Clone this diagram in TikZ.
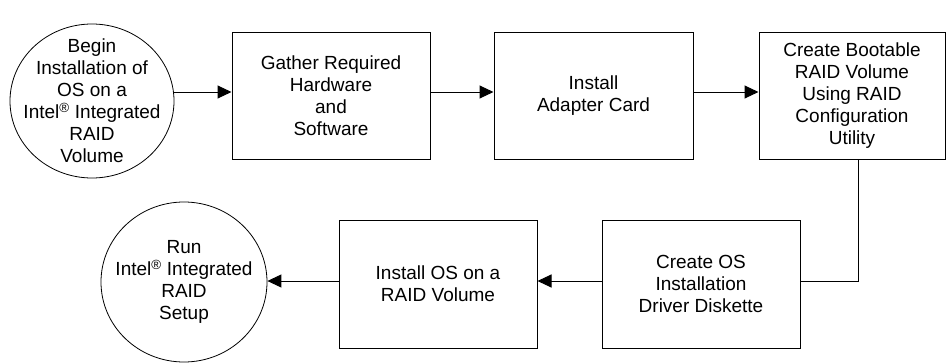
\documentclass[tikz,border=0pt]{standalone}
\usepackage{fontspec}
\setmainfont{Liberation Sans}
\usetikzlibrary{shapes.geometric,arrows.meta}
\begin{document}
\begin{tikzpicture}[x=1pt,y=-1pt,
        box/.style={draw,line width=1pt,minimum width=198pt,minimum height=127pt,align=center,inner sep=0pt},
        term/.style={draw,ellipse,line width=0.8pt,align=center,inner sep=-15pt},
        flow/.style={line width=1pt,-{Triangle[length=14pt,width=13pt]}},
        font=\fontsize{19}{22}\selectfont]
        \useasboundingbox (0,0) rectangle (946,364);
        \node[term,minimum width=164pt,minimum height=154pt] (start) at (92,101) {Begin\\Installation of\\OS on a\\Intel\textsuperscript{®} Integrated\\RAID\\Volume};
        \node[box] (gather) at (331,95.5) {Gather Required\\Hardware\\and\\Software};
        \node[box,minimum width=199pt] (adapter) at (593.5,95.5) {Install\\Adapter Card};
        \node[box,minimum width=186pt] (bootable) at (852,95.5) {Create Bootable\\RAID Volume\\Using RAID\\Configuration\\Utility};
        \node[box,minimum height=128pt] (diskette) at (701,284) {Create OS\\Installation\\Driver Diskette};
        \node[box,minimum height=128pt] (installos) at (438,284) {Install OS on a\\RAID Volume};
        \node[term,minimum width=166pt,minimum height=160pt] (run) at (184,282) {Run\\Intel\textsuperscript{®} Integrated\\RAID\\Setup};
        % top row
        \coordinate (g-in) at ([yshift=3.5pt]gather.west);
        \coordinate (a-in) at ([yshift=3.5pt]adapter.west);
        \coordinate (b-in) at ([yshift=3.5pt]bootable.west);
        \draw[flow] (start.east |- g-in) -- (g-in);
        \draw[flow] (gather.east |- a-in) -- (a-in);
        \draw[flow] (adapter.east |- b-in) -- (b-in);
        % down and back
        \coordinate (b-out) at ([xshift=6pt]bootable.south);
        \coordinate (d-in) at ([yshift=3pt]diskette.east);
        \draw[line width=1pt] (b-out) |- (d-in);
        \draw[flow] (diskette.west |- d-in) -- (installos.east |- d-in);
        \draw[flow] (installos.west |- d-in) -- (run.east |- d-in);
\end{tikzpicture}
\end{document}
